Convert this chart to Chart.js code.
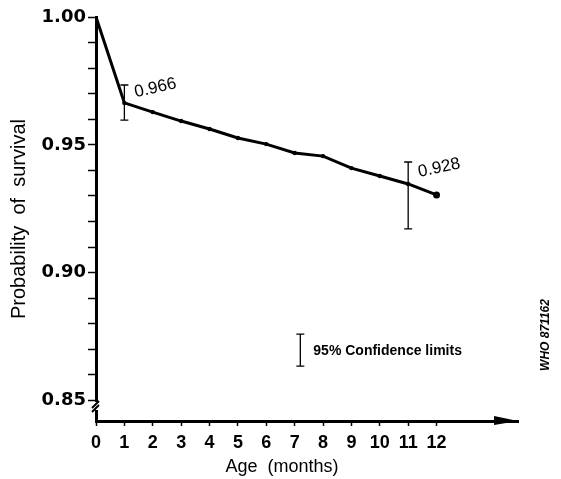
<!DOCTYPE html>
<html>
<head>
<meta charset="utf-8">
<script src="https://cdn.jsdelivr.net/npm/chart.js@4"></script>
<style>
  html, body { margin: 0; padding: 0; background: #fff; }
  #wrap { width: 561px; height: 479px; }
</style>
</head>
<body>
<div id="wrap"><canvas id="survChart" width="561" height="479"></canvas></div>
<script>
// 月齢と生存確率
const months = [0, 1, 2, 3, 4, 5, 6, 7, 8, 9, 10, 11, 12]
const survival = [1.000, 0.9664, 0.9628, 0.9593, 0.9562, 0.9527, 0.9503, 0.9468, 0.9456, 0.9409, 0.9378, 0.9347, 0.9304]

// 95%信頼限界 (月, 下限, 上限)
const ciMonths = [1, 11]
const ciLow = [0.9597, 0.9171]
const ciHigh = [0.9734, 0.9433]

// 凡例のエラーバー
const legendCi = [7.2, 0.8635, 0.876]

const xTicks = [0, 1, 2, 3, 4, 5, 6, 7, 8, 9, 10, 11, 12]
const yTicks = [0.85, 0.86, 0.87, 0.88, 0.89, 0.90, 0.91, 0.92, 0.93, 0.94, 0.95, 0.96, 0.97, 0.98, 0.99, 1.00]
const yLabels = ['0.85', '0.90', '0.95', '1.00']

const FONT = "'Liberation Sans', Arial, sans-serif"
const WIDE = "'DejaVu Sans', sans-serif"

const pointSizes = months.map((m, i) => i === 0 ? 0 : (i === months.length - 1 ? 3.5 : 2.2))

// エラーバー・矢印・注記を描くプラグイン
const extras = {
  id: 'extras',
  afterDatasetsDraw(chart) {
    const ctx = chart.ctx
    const xs = chart.scales.x
    const ys = chart.scales.y
    const area = chart.chartArea

    function errBar(m, lo, hi) {
      const x = xs.getPixelForValue(m)
      const y1 = ys.getPixelForValue(lo)
      const y2 = ys.getPixelForValue(hi)
      ctx.save()
      ctx.strokeStyle = '#000'
      ctx.lineWidth = 1.3
      ctx.beginPath()
      ctx.moveTo(x, y1); ctx.lineTo(x, y2)
      ctx.moveTo(x - 4, y1); ctx.lineTo(x + 4, y1)
      ctx.moveTo(x - 4, y2); ctx.lineTo(x + 4, y2)
      ctx.stroke()
      ctx.restore()
    }
    for (let i = 0; i < ciMonths.length; i++) {
      errBar(ciMonths[i], ciLow[i], ciHigh[i])
    }
    errBar(legendCi[0], legendCi[1], legendCi[2])

    ctx.save()
    ctx.fillStyle = '#000'
    ctx.font = 'bold 14px ' + FONT
    ctx.textBaseline = 'middle'
    ctx.textAlign = 'left'
    ctx.fillText('95% Confidence limits', xs.getPixelForValue(legendCi[0]) + 13, ys.getPixelForValue((legendCi[1] + legendCi[2]) / 2) + 1)
    ctx.restore()

    // 値の注記（傾けて描く）
    function rotLabel(txt, x, y, ang) {
      ctx.save()
      ctx.translate(x, y)
      ctx.rotate(ang * Math.PI / 180)
      ctx.font = '17px ' + FONT
      ctx.fillStyle = '#000'
      ctx.textAlign = 'center'
      ctx.textBaseline = 'middle'
      ctx.fillText(txt, 0, 0)
      ctx.restore()
    }
    rotLabel('0.966', xs.getPixelForValue(1) + 31, ys.getPixelForValue(ciHigh[0]) + 3, -13)
    rotLabel('0.928', xs.getPixelForValue(11) + 31, ys.getPixelForValue(ciHigh[1]) + 6, -12)

    // x軸の矢印
    const yAx = area.bottom
    ctx.save()
    ctx.fillStyle = '#000'
    ctx.beginPath()
    ctx.moveTo(area.right, yAx)
    ctx.lineTo(area.right - 24, yAx - 5)
    ctx.lineTo(area.right - 24, yAx + 4)
    ctx.closePath()
    ctx.fill()

    // 軸の切れ目
    ctx.fillStyle = '#fff'
    ctx.fillRect(area.left - 4, yAx - 19, 8, 8)
    ctx.strokeStyle = '#000'
    ctx.lineWidth = 2
    ctx.beginPath()
    ctx.moveTo(area.left - 4, yAx - 9)
    ctx.lineTo(area.left + 3, yAx - 16)
    ctx.moveTo(area.left - 4, yAx - 13)
    ctx.lineTo(area.left + 3, yAx - 20)
    ctx.stroke()

    // x軸タイトル
    ctx.fillStyle = '#000'
    ctx.font = '18px ' + FONT
    ctx.textAlign = 'center'
    ctx.textBaseline = 'middle'
    ctx.fillText('Age  (months)', 282, 467)

    // 図番号
    ctx.translate(546, 335)
    ctx.rotate(-Math.PI / 2)
    ctx.font = 'italic bold 12px ' + FONT
    ctx.fillText('WHO 871162', 0, 0)
    ctx.restore()
  }
}

const ctx = document.getElementById('survChart').getContext('2d')
const myChart = new Chart(ctx, {
  type: 'line',
  data: {
    datasets: [{
      data: months.map((m, i) => ({ x: m, y: survival[i] })),
      borderColor: '#000',
      backgroundColor: '#000',
      borderWidth: 3,
      pointRadius: pointSizes,
      pointBorderWidth: 0,
      tension: 0,
      clip: false
    }]
  },
  plugins: [extras],
  options: {
    responsive: false,
    animation: false,
    layout: { padding: { top: 17, right: 43, left: 0, bottom: 0 } },
    plugins: {
      legend: { display: false },
      tooltip: { enabled: false }
    },
    scales: {
      x: {
        type: 'linear',
        min: 0,
        max: 14.87,
        afterFit: s => { s.height = 58 },
        afterBuildTicks: s => { s.ticks = xTicks.map(v => ({ value: v })) },
        border: { display: true, color: '#000', width: 3 },
        grid: { drawOnChartArea: false, drawTicks: true, tickLength: 5, color: '#000', tickWidth: 1.5 },
        ticks: {
          color: '#000',
          padding: 6,
          maxRotation: 0,
          autoSkip: false,
          font: { family: FONT, size: 18, weight: 'bold' },
          callback: v => String(v)
        }
      },
      y: {
        type: 'linear',
        min: 0.842,
        max: 1.0,
        afterFit: s => { s.width = 96 },
        afterBuildTicks: s => { s.ticks = yTicks.map(v => ({ value: v })) },
        border: { display: true, color: '#000', width: 3 },
        grid: { drawOnChartArea: false, drawTicks: true, tickLength: 8, color: '#000', tickWidth: 1.5 },
        ticks: {
          color: '#000',
          padding: 2,
          autoSkip: false,
          font: { family: WIDE, size: 18, weight: 'bold' },
          callback: v => {
            const s = v.toFixed(2)
            return yLabels.includes(s) ? s : ''
          }
        },
        title: {
          display: true,
          text: 'Probability  of  survival',
          color: '#000',
          padding: { top: 7, bottom: 0 },
          font: { family: FONT, size: 20 }
        }
      }
    }
  }
})
</script>
</body>
</html>
